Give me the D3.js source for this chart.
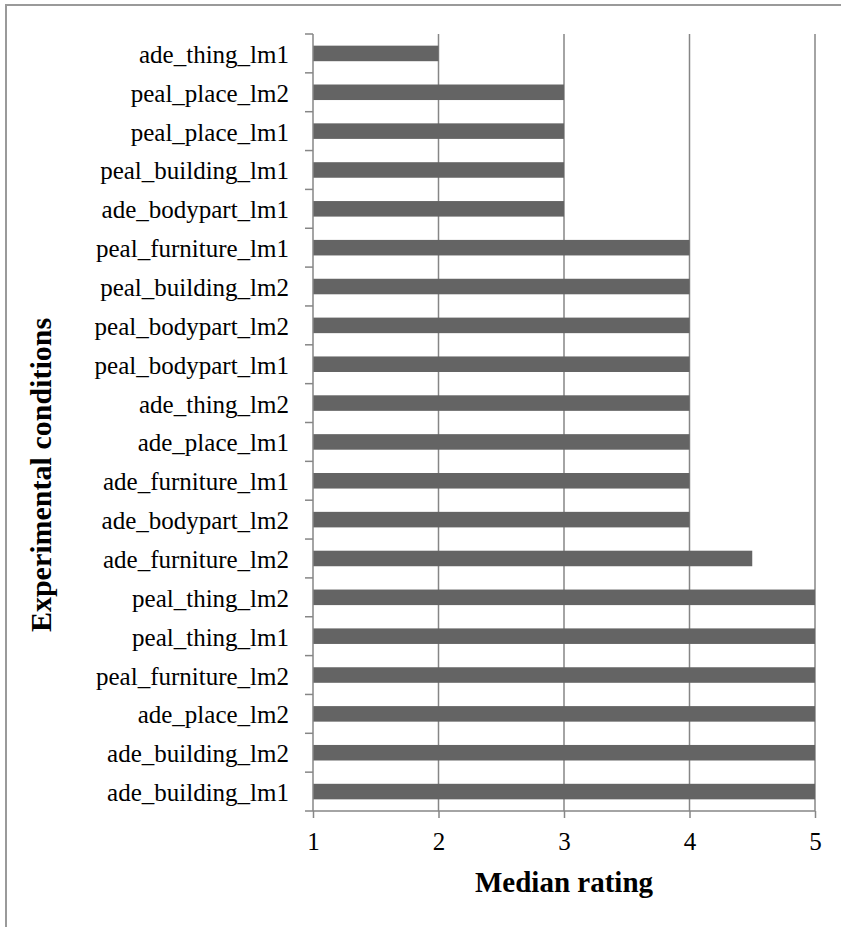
<!DOCTYPE html>
<html>
<head>
<meta charset="utf-8">
<script src="https://cdn.jsdelivr.net/npm/d3@7"></script>
<style>
  html, body { margin: 0; padding: 0; background: #fff; }
  svg { display: block; }
  text { font-family: "Liberation Serif", "Times New Roman", serif; fill: #000; }
</style>
</head>
<body>
<div id="chart"></div>
<script>
// Conditions listed top to bottom, with their median ratings
const conditions = [
  "ade_thing_lm1", "peal_place_lm2", "peal_place_lm1", "peal_building_lm1",
  "ade_bodypart_lm1", "peal_furniture_lm1", "peal_building_lm2", "peal_bodypart_lm2",
  "peal_bodypart_lm1", "ade_thing_lm2", "ade_place_lm1", "ade_furniture_lm1",
  "ade_bodypart_lm2", "ade_furniture_lm2", "peal_thing_lm2", "peal_thing_lm1",
  "peal_furniture_lm2", "ade_place_lm2", "ade_building_lm2", "ade_building_lm1"
];
const medianRatings = [
  2, 3, 3, 3,
  3, 4, 4, 4,
  4, 4, 4, 4,
  4, 4.5, 5, 5,
  5, 5, 5, 5
];
const xTicks = [1, 2, 3, 4, 5];

const W = 841, H = 927;
const plot = { left: 313, right: 815, top: 34, bottom: 811 };
const axisColor = "#868686";
const barColor = "#646464";

const svg = d3.select("#chart").append("svg").attr("width", W).attr("height", H);

// Frame around the chart area (runs off the right and bottom edges)
svg.append("rect")
  .attr("x", 6).attr("y", 5)
  .attr("width", W + 10).attr("height", H + 10)
  .attr("fill", "none").attr("stroke", "#9a9a9a").attr("stroke-width", 2);

const x = d3.scaleLinear().domain([1, 5]).range([plot.left, plot.right]);
const y = d3.scaleBand().domain(conditions).range([plot.top, plot.bottom])
  .paddingInner(0.6).paddingOuter(0.3);

// Vertical gridlines
svg.append("g").selectAll("line").data(xTicks.slice(1)).join("line")
  .attr("x1", d => x(d)).attr("x2", d => x(d))
  .attr("y1", plot.top).attr("y2", plot.bottom)
  .attr("stroke", axisColor).attr("stroke-width", 1.5);

// Bars
const data = conditions.map((c, i) => ({ c, v: medianRatings[i] }));
svg.append("g").selectAll("rect").data(data).join("rect")
  .attr("x", x(1))
  .attr("y", d => y(d.c))
  .attr("width", d => x(d.v) - x(1))
  .attr("height", y.bandwidth())
  .attr("fill", barColor);

// X axis
const xAxis = d3.axisBottom(x).tickValues(xTicks).tickSize(7).tickPadding(14).tickFormat(d3.format("d"));
const gx = svg.append("g").attr("transform", `translate(0,${plot.bottom})`).call(xAxis);
gx.select(".domain").attr("stroke", axisColor).attr("stroke-width", 1.5)
  .attr("d", `M${plot.left},0H${plot.right}`);
gx.selectAll(".tick line").attr("stroke", axisColor).attr("stroke-width", 1.5);
gx.selectAll(".tick text")
  .attr("font-family", "Liberation Serif, serif")
  .attr("font-size", 25).attr("fill", "#000");

// Y axis: category labels, ticks at band boundaries
const gy = svg.append("g");
gy.append("line")
  .attr("x1", plot.left).attr("x2", plot.left)
  .attr("y1", plot.top).attr("y2", plot.bottom)
  .attr("stroke", axisColor).attr("stroke-width", 1.5);
const boundaries = d3.range(conditions.length + 1).map(i => plot.top + i * (plot.bottom - plot.top) / conditions.length);
gy.selectAll("line.tick").data(boundaries).join("line")
  .attr("class", "tick")
  .attr("x1", plot.left - 8).attr("x2", plot.left)
  .attr("y1", d => d).attr("y2", d => d)
  .attr("stroke", axisColor).attr("stroke-width", 1.5);
gy.selectAll("text").data(conditions).join("text")
  .attr("x", plot.left - 24)
  .attr("y", d => y(d) + y.bandwidth() / 2 + 9.5)
  .attr("text-anchor", "end")
  .attr("font-size", 25)
  .text(d => d);

// Axis titles
svg.append("text")
  .attr("x", (plot.left + plot.right) / 2).attr("y", 892)
  .attr("text-anchor", "middle")
  .attr("font-size", 29).attr("font-weight", "bold")
  .text("Median rating");

svg.append("text")
  .attr("transform", `translate(51,475) rotate(-90)`)
  .attr("text-anchor", "middle")
  .attr("font-size", 30).attr("font-weight", "bold")
  .text("Experimental conditions");
</script>
</body>
</html>
